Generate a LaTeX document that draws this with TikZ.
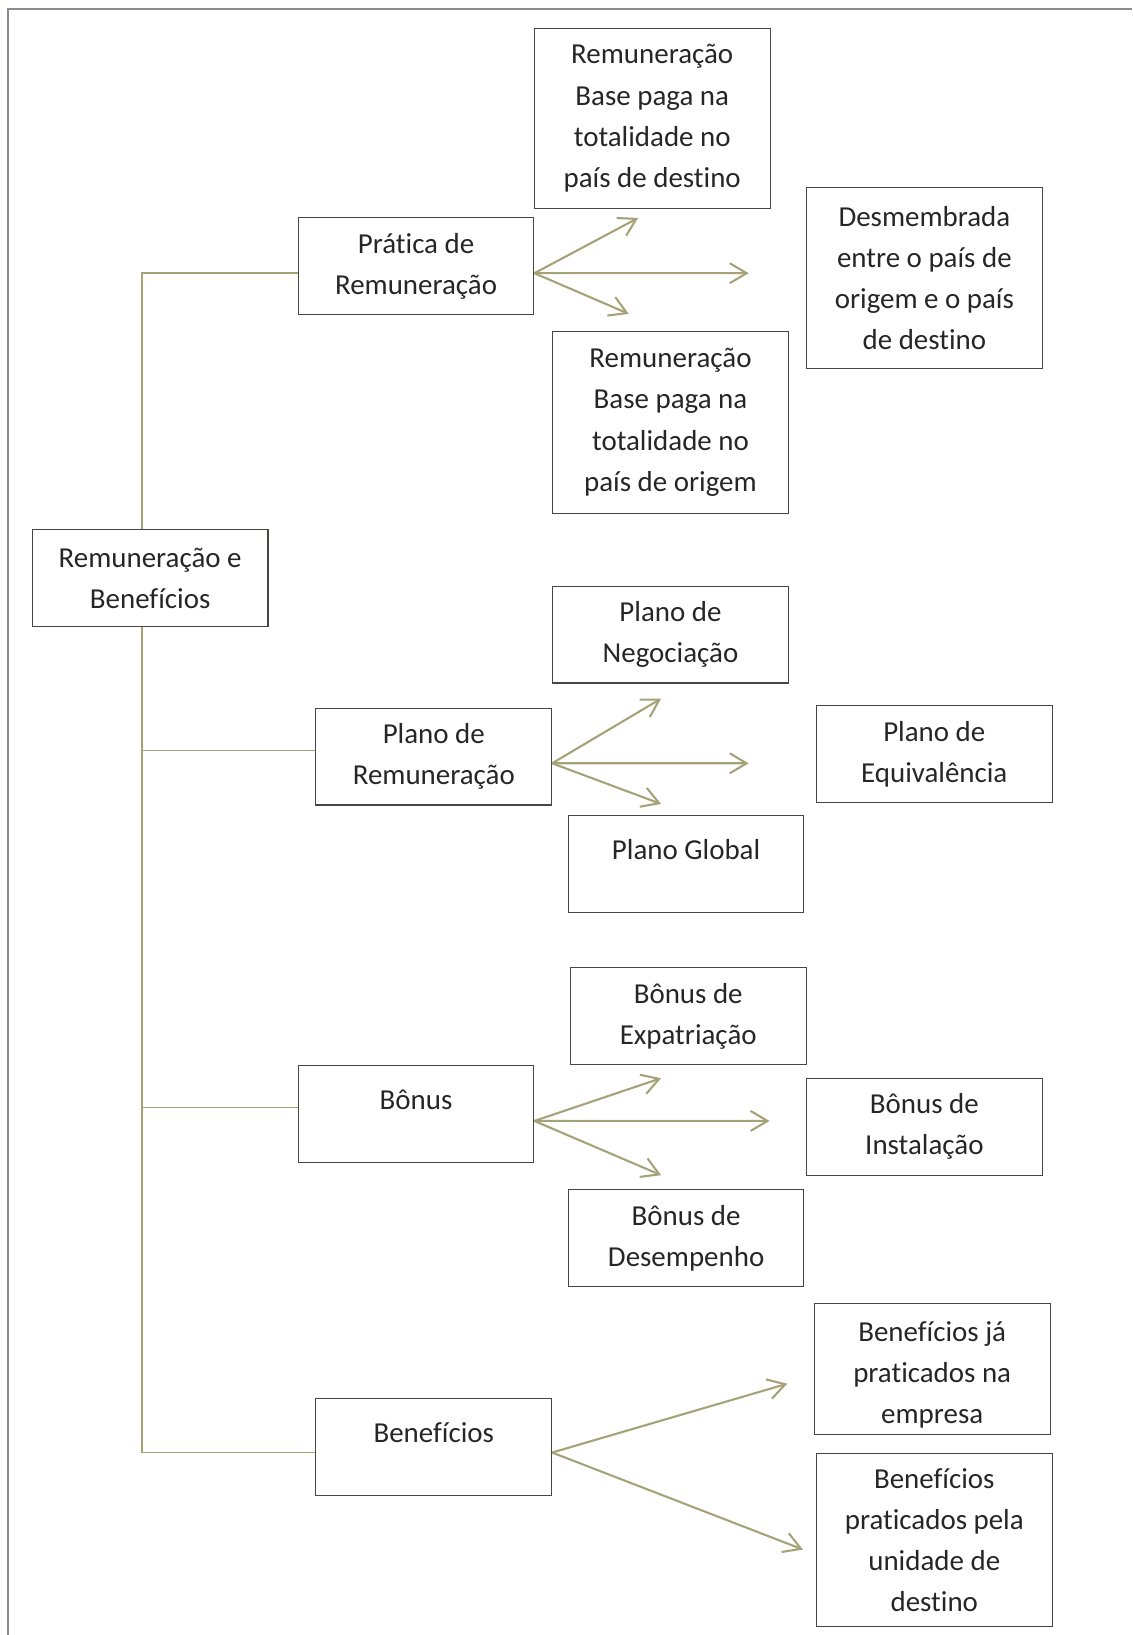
\documentclass[tikz,border=0pt]{standalone}
\usepackage{fontspec}
\setmainfont{Carlito}[Ligatures=NoCommon]
\usepackage{tikz}
\usetikzlibrary{arrows.meta, positioning, calc}
\definecolor{olivelines}{RGB}{166,162,120}
\definecolor{boxedge}{RGB}{70,70,66}
\definecolor{frameedge}{RGB}{140,140,132}
\definecolor{boxtext}{RGB}{38,38,38}
\tikzset{box/.style = {
  % Rectangle:
  rectangle,
  draw=boxedge, line width=0.4pt,
  minimum width=90.4pt, minimum height=37.2pt,
  inner sep=0pt,
  % Text:
  text=boxtext, align=center,
  font=\fontsize{11.1}{15.8}\selectfont
  }}
\tikzset{tallbox/.style = {
  box,
  minimum height=69.2pt
  }}
\tikzset{oneline/.style = {
  box,
  text height=8pt, text depth=11.5pt
  }}
\tikzset{tree/.style = {
  draw=olivelines,
  line width=0.55pt
  }}
\tikzset{arrow/.style = {
  -{Straight Barb[length=6.5pt, width=7.7pt]},
  draw=olivelines,
  line width=0.8pt
  }}
\tikzset{frame/.style = {
  draw=frameedge,
  line width=0.5pt
  }}

\begin{document}
\begin{tikzpicture}[x=0.4pt, y=-0.4pt]
  \useasboundingbox (0,0) rectangle (1086,1568);
  \draw [frame] (7.7,1568) |- (1086,8.6);

  %
  % Specification of nodes
  %
  \node (root) [box] at (144,554.5) {Remuneração e\\Benefícios};

  \node (pratica) [box] at (399,255.5) {Prática de\\Remuneração};
  \node (destino) [tallbox] at (625.5,113.5) {Remuneração\\Base paga na\\totalidade no\\país de destino};
  \node (desmemb) [tallbox] at (886.5,266.5) {Desmembrada\\entre o país de\\origem e o país\\de destino};
  \node (origem) [tallbox, minimum height=69.6pt] at (643,405) {Remuneração\\Base paga na\\totalidade no\\país de origem};

  \node (plano) [box] at (416,725.5) {Plano de\\Remuneração};
  \node (negoc) [box] at (643,608.5) {Plano de\\Negociação};
  \node (equiv) [box] at (896,723.5) {Plano de\\Equivalência};
  \node (global) [oneline] at (658,829) {Plano Global};

  \node (bonus) [oneline] at (399,1068.5) {Bônus};
  \node (expat) [box] at (660,974.5) {Bônus de\\Expatriação};
  \node (instal) [box] at (886.5,1080.5) {Bônus de\\Instalação};
  \node (desemp) [box] at (658,1187.5) {Bônus de\\Desempenho};

  \node (benef) [oneline] at (416,1387.5) {Benefícios};
  \node (empresa) [box, minimum height=50.4pt, text height=41.7pt, text depth=0pt] at (894,1313) {Benefícios já\\praticados na\\empresa};
  \node (unidade) [box, minimum height=66.4pt] at (896,1477) {Benefícios\\praticados pela\\unidade de\\destino};

  %
  % Free ends and joints
  %
  \coordinate (trunk) at (136,0);
  \coordinate (pratica-out) at ([yshift=-2.6pt]pratica.east);
  \coordinate (pratica-in) at ([yshift=-2.6pt]pratica.west);
  \coordinate (plano-out) at ([yshift=-2.6pt]plano.east);
  \coordinate (plano-in) at ([yshift=2.2pt]plano.west);
  \coordinate (bonus-out) at ([yshift=-2.6pt]bonus.east);
  \coordinate (bonus-in) at ([yshift=2.6pt]bonus.west);
  \coordinate (benef-out) at ([yshift=-2.2pt]benef.east);
  \coordinate (benef-in) at ([yshift=-2.2pt]benef.west);

  \coordinate (p1) at (612,209);
  \coordinate (p2) at (718,262);
  \coordinate (p3) at (603,301);
  \coordinate (q1) at (634,670);
  \coordinate (q2) at (718,732);
  \coordinate (q3) at (634,771);
  \coordinate (r1) at (634,1034);
  \coordinate (r2) at (738,1075);
  \coordinate (r3) at (634,1127);
  \coordinate (s1) at (755,1327);
  \coordinate (s2) at (770,1486);

  %
  % Specification of lines
  %
  \draw [tree] (pratica-in) -| (trunk |- root.north);
  \draw [tree] (trunk |- root.south) |- (benef-in);
  \draw [tree] (trunk |- plano-in) -- (plano-in);
  \draw [tree] (trunk |- bonus-in) -- (bonus-in);

  \draw [arrow] (pratica-out) -- (p1);
  \draw [arrow] (pratica-out) -- (p2);
  \draw [arrow] (pratica-out) -- (p3);

  \draw [arrow] (plano-out) -- (q1);
  \draw [arrow] (plano-out) -- (q2);
  \draw [arrow] (plano-out) -- (q3);

  \draw [arrow] (bonus-out) -- (r1);
  \draw [arrow] (bonus-out) -- (r2);
  \draw [arrow] (bonus-out) -- (r3);

  \draw [arrow] (benef-out) -- (s1);
  \draw [arrow] (benef-out) -- (s2);
\end{tikzpicture}
\end{document}
